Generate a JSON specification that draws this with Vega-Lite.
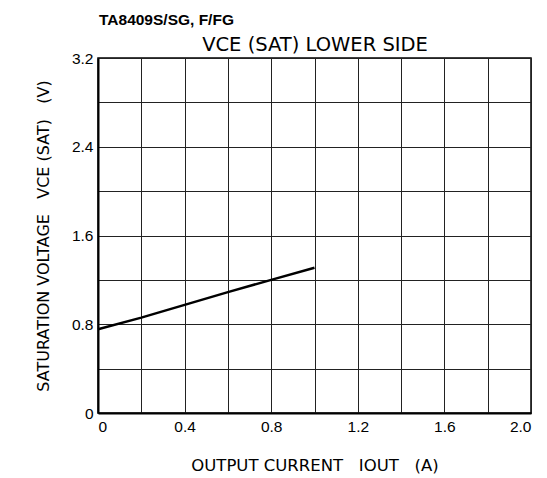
{
  "$schema": "https://vega.github.io/schema/vega-lite/v6.json",
  "width": 433,
  "height": 355,
  "autosize": "none",
  "padding": {"left": 98, "top": 58, "right": 16, "bottom": 65},
  "background": "white",
  "title": {"text": "TA8409S/SG, F/FG", "anchor": "start", "frame": "group", "dx": 1, "font": "Liberation Sans", "fontSize": 15.5, "fontWeight": "bold", "color": "black", "offset": 6},
  "config": {"view": {"stroke": "black", "strokeWidth": 1.5}},
  "data": {"values": [
    {"iout": 0.0, "vce": 0.755},
    {"iout": 0.2, "vce": 0.86},
    {"iout": 0.4, "vce": 0.975},
    {"iout": 0.6, "vce": 1.09},
    {"iout": 0.8, "vce": 1.2},
    {"iout": 1.0, "vce": 1.31}
  ]},
  "layer": [
    {
      "mark": {"type": "line", "color": "black", "strokeWidth": 2.5},
      "encoding": {
        "x": {
          "field": "iout", "type": "quantitative",
          "scale": {"domain": [0, 2], "nice": false, "zero": true},
          "axis": {
            "orient": "bottom",
            "values": [0, 0.2, 0.4, 0.6, 0.8, 1.0, 1.2, 1.4, 1.6, 1.8, 2.0],
            "labelExpr": "round(datum.value*10) % 4 == 0 ? (datum.value == 0 ? '0' : format(datum.value, '.1f')) : ''",
            "title": "OUTPUT CURRENT\u00a0\u00a0\u00a0IOUT\u00a0\u00a0\u00a0(A)",
            "titleFont": "DejaVu Sans", "titleFontSize": 16.5, "titleFontWeight": "normal", "titleColor": "black",
            "titlePadding": 23,
            "labelFont": "Liberation Sans", "labelFontSize": 15.5, "labelColor": "black", "labelPadding": 6,
            "ticks": false, "domainColor": "black", "domainWidth": 2,
            "grid": true, "gridColor": "#222", "gridWidth": 1, "gridOpacity": 1
          }
        },
        "y": {
          "field": "vce", "type": "quantitative",
          "scale": {"domain": [0, 3.2], "nice": false, "zero": true},
          "axis": {
            "values": [0, 0.4, 0.8, 1.2, 1.6, 2.0, 2.4, 2.8, 3.2],
            "labelExpr": "round(datum.value*10) % 8 == 0 ? (datum.value == 0 ? '0' : format(datum.value, '.1f')) : ''",
            "title": "SATURATION VOLTAGE\u00a0\u00a0\u00a0VCE (SAT)\u00a0\u00a0\u00a0(V)",
            "titleFont": "DejaVu Sans", "titleFontSize": 16, "titleFontWeight": "normal", "titleColor": "black",
            "titlePadding": 20,
            "labelFont": "Liberation Sans", "labelFontSize": 15.5, "labelColor": "black", "labelPadding": 5,
            "ticks": false, "domainColor": "black", "domainWidth": 2,
            "grid": true, "gridColor": "#222", "gridWidth": 1, "gridOpacity": 1
          }
        }
      }
    },
    {
      "mark": {"type": "line", "opacity": 0},
      "encoding": {
        "x": {
          "field": "iout", "type": "quantitative",
          "axis": {
            "orient": "top", "title": "VCE (SAT) LOWER SIDE",
            "titleFont": "DejaVu Sans", "titleFontSize": 19.5, "titleFontWeight": "normal", "titleColor": "black",
            "titlePadding": 4,
            "labels": false, "ticks": false, "domain": false, "grid": false
          }
        },
        "y": {"field": "vce", "type": "quantitative"}
      }
    }
  ],
  "resolve": {"axis": {"x": "independent"}}
}
